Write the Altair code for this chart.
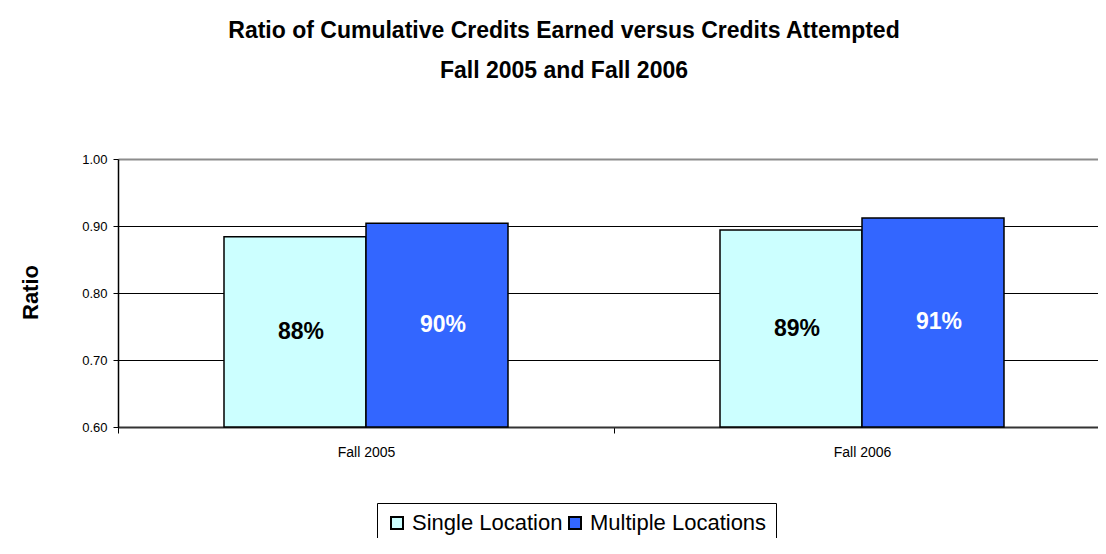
import altair as alt
import pandas as pd

periods = ["Fall 2005", "Fall 2006"]
locations = ["Single Location", "Multiple Locations"]
single_values = [0.884, 0.894]
multiple_values = [0.904, 0.912]
colors = ["#CCFFFF", "#3366FF"]
y_ticks = [0.6, 0.7, 0.8, 0.9, 1.0]

rows = []
for i, p in enumerate(periods):
    rows.append({"Period": p, "Location": locations[0], "Ratio": single_values[i]})
    rows.append({"Period": p, "Location": locations[1], "Ratio": multiple_values[i]})
df = pd.DataFrame(rows)

FONT = "Liberation Sans"

x_enc = alt.X(
    "Period:N",
    sort=periods,
    scale=alt.Scale(paddingInner=0, paddingOuter=0, range=[0, 992]),
    axis=alt.Axis(
        title=None,
        labelAngle=0,
        labelFontSize=14,
        labelColor="black",
        labelFont=FONT,
        tickBand="extent",
        tickSize=6,
        tickColor="black",
        labelPadding=12,
        domainColor="#333333",
        domainWidth=2,
        grid=False,
    ),
)
xoff_enc = alt.XOffset("Location:N", sort=locations,
                       scale=alt.Scale(domain=locations, paddingInner=0, paddingOuter=0.7465))

y_axis = alt.Axis(
    title="Ratio",
    values=y_ticks,
    format=".2f",
    labelFontSize=13,
    labelColor="black",
    labelFont=FONT,
    tickSize=5,
    tickColor="black",
    labelPadding=6,
    domainColor="black",
    domainWidth=1.5,
    grid=True,
    gridColor=alt.condition("datum.value === 1", alt.value("#8c8c8c"),
                            alt.value("black")),
    gridWidth=alt.condition("datum.value === 1", alt.value(2), alt.value(1)),
    titleFontSize=22,
    titleFontWeight="bold",
    titleFont=FONT,
    titleColor="black",
    titleAngle=270,
    titleAlign="center",
    titleBaseline="middle",
    titleX=-88,
    titleY=133,
)
y_scale = alt.Scale(domain=[0.6, 1.0], zero=False, nice=False)

bars = alt.Chart(df).mark_bar(stroke="black", strokeWidth=1.5).encode(
    x=x_enc,
    xOffset=xoff_enc,
    y=alt.Y("Ratio:Q", scale=y_scale, axis=y_axis),
    y2=alt.datum(0.6),
    fill=alt.Fill(
        "Location:N",
        sort=locations,
        scale=alt.Scale(domain=locations, range=colors),
        legend=alt.Legend(
            orient="none",
            legendX=259,
            legendY=344,
            direction="horizontal",
            title=None,
            strokeColor="black",
            fillColor="white",
            padding=9,
            labelFontSize=22,
            labelFont=FONT,
            labelColor="black",
            labelLimit=1000,
            symbolType="square",
            symbolSize=144,
            symbolStrokeColor="black",
            symbolStrokeWidth=2,
            symbolOpacity=1,
            columnPadding=1,
            labelOffset=4,
        ),
    ),
)

labels = alt.Chart(df).transform_calculate(
    mid="(datum.Ratio + 0.6) / 2"
).mark_text(fontSize=23, fontWeight="bold", font=FONT, dx=6, baseline="middle").encode(
    x=alt.X("Period:N", sort=periods),
    xOffset=alt.XOffset("Location:N", sort=locations),
    y=alt.Y("mid:Q", title="Ratio"),
    text=alt.Text("Ratio:Q", format=".0%"),
    color=alt.condition("datum.Location === 'Single Location'",
                        alt.value("black"), alt.value("white")),
)

chart = alt.layer(bars, labels).properties(
    width=980,
    height=268,
    autosize=alt.AutoSizeParams(type="none"),
    padding={"left": 110, "top": 151, "right": 0, "bottom": 111},
    title=alt.TitleParams(
        text=["Ratio of Cumulative Credits Earned versus Credits Attempted",
              "Fall 2005 and Fall 2006"],
        fontSize=23,
        fontWeight="bold",
        font=FONT,
        color="black",
        lineHeight=40,
        anchor="middle",
        dx=-44,
        offset=70,
    ),
).configure_view(stroke=None).configure(background="white")

chart.save("out.html", embed_options={"renderer": "svg", "actions": False})
